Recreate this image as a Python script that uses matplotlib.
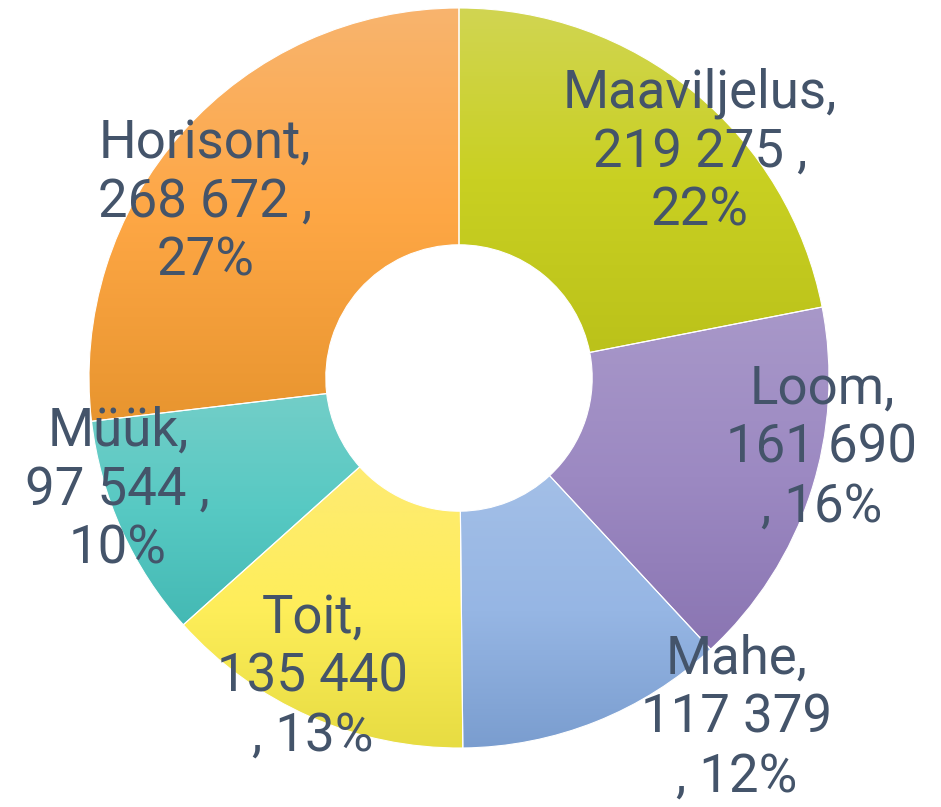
import numpy as np
import matplotlib
matplotlib.use("Agg")
import matplotlib.pyplot as plt
from matplotlib.colors import LinearSegmentedColormap

# ── Data ──────────────────────────────────────────────────────────────────────
names = ["Maaviljelus", "Loom", "Mahe", "Toit", "Müük", "Horisont"]
values = [219275, 161690, 117379, 135440, 97544, 268672]
pcts = [22, 16, 12, 13, 10, 27]
# label wraps after the value (True) or after the value's number (False)
comma_on_value_line = [True, False, False, False, True, True]

# gradient colours per slice: top -> middle -> bottom
top_colors = ["#D1D552", "#A898C9", "#A3BFE7", "#FEEB73", "#73CEC8", "#F8B46E"]
mid_colors = ["#C9D022", "#9C89C2", "#96B6E4", "#FEEE5A", "#57C9C3", "#FEA745"]
bottom_colors = ["#BBC21A", "#8A75B2", "#7A9DCF", "#E7DC42", "#44B9B4", "#E8952F"]

# label centres, in units of the outer radius
label_xy = [(0.651, 0.611), (0.981, -0.189), (0.751, -0.919),
            (-0.395, -0.808), (-0.922, -0.303), (-0.686, 0.476)]

TEXT_COLOR = "#44546A"


def fmt_num(v):
    return f"{v:,}".replace(",", " ")


labels = []
for n, v, p, c in zip(names, values, pcts, comma_on_value_line):
    if c:
        labels.append(f"{n},\n{fmt_num(v)} ,\n{p}%")
    else:
        labels.append(f"{n},\n{fmt_num(v)}\n, {p}%")

# ── Figure ────────────────────────────────────────────────────────────────────
W, H = 941, 807
cx, cy, R = 459, 378, 370  # centre and outer radius in pixels

fig = plt.figure(figsize=(W / 100, H / 100), dpi=100)
ax = fig.add_axes([0, 0, 1, 1])
ax.axis("off")

wedges, _ = ax.pie(
    values, startangle=90, counterclock=False, radius=1.0,
    wedgeprops=dict(width=0.64, edgecolor="white", linewidth=0.8),
)

grad = np.linspace(0, 1, 256).reshape(-1, 1)
for w, ct, cm, cb in zip(wedges, top_colors, mid_colors, bottom_colors):
    ext = w.get_path().get_extents()
    cmap = LinearSegmentedColormap.from_list("g", [cb, cm, ct])
    im = ax.imshow(grad, cmap=cmap, aspect="auto", origin="lower",
                   extent=[ext.x0, ext.x1, ext.y0, ext.y1],
                   interpolation="bilinear", zorder=1)
    im.set_clip_path(w)
    w.set_facecolor("none")
    w.set_zorder(2)

ax.set_xlim(-cx / R, (W - cx) / R)
ax.set_ylim(-(H - cy) / R, cy / R)
ax.set_aspect("auto")

for (x, y), lab in zip(label_xy, labels):
    ax.text(x, y, lab, ha="center", va="center", multialignment="center",
            fontsize=38, family="Roboto", color=TEXT_COLOR, linespacing=1.2,
            zorder=3)

fig.savefig("out.png", dpi=100)
